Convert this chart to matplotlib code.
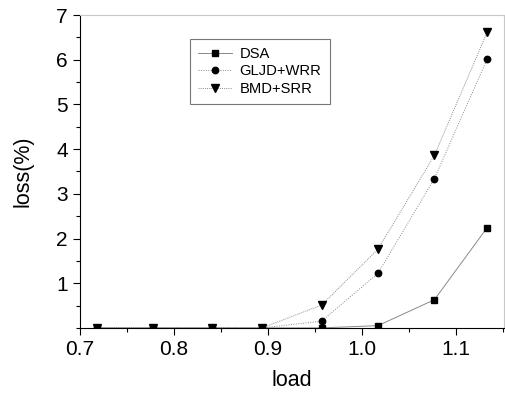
import numpy as np
import matplotlib.pyplot as plt
from matplotlib.ticker import MultipleLocator

plt.rcParams['font.family'] = ['Liberation Sans', 'DejaVu Sans']

load = [0.718, 0.778, 0.841, 0.894, 0.957, 1.017, 1.077, 1.133]
dsa = [0.0, 0.0, 0.0, 0.0, 0.0, 0.05, 0.63, 2.24]
gljd_wrr = [0.0, 0.0, 0.0, 0.0, 0.15, 1.22, 3.34, 6.01]
bmd_srr = [0.0, 0.0, 0.0, 0.0, 0.51, 1.76, 3.86, 6.61]

fig = plt.figure(figsize=(5.05, 3.96), dpi=100)
ax = fig.add_axes([0.158, 0.172, 0.840, 0.790])

ax.plot(load, dsa, color='#8a8a8a', lw=0.7, ls='-',
        marker='s', ms=3.8, mfc='black', mec='black', label='DSA')
ax.plot(load, gljd_wrr, color='#8a8a8a', lw=0.7, ls=(0, (1, 1.5)),
        marker='o', ms=4.6, mfc='black', mec='black', label='GLJD+WRR')
ax.plot(load, bmd_srr, color='#8a8a8a', lw=0.7, ls=(0, (1, 1.2)),
        marker='v', ms=5.5, mfc='black', mec='black', label='BMD+SRR')

ax.set_xlim(0.7, 1.151)
ax.set_ylim(0, 7)
ax.xaxis.set_major_locator(MultipleLocator(0.1))
ax.xaxis.set_minor_locator(MultipleLocator(0.05))
ax.set_yticks([1, 2, 3, 4, 5, 6, 7])
ax.yaxis.set_minor_locator(MultipleLocator(0.5))
ax.xaxis.set_major_formatter(plt.FuncFormatter(lambda v, p: '%.1f' % v))

ax.tick_params(which='major', direction='out', length=5, width=0.8, labelsize=15,
               top=False, right=False)
ax.tick_params(which='minor', direction='out', length=3, width=0.8,
               top=False, right=False)
for s in ['top', 'right']:
    ax.spines[s].set_color('#c8c8c8')
for s in ['left', 'bottom']:
    ax.spines[s].set_linewidth(0.8)

ax.set_xlabel('load', fontsize=15.5)
ax.set_ylabel('loss(%)', fontsize=15.5)
ax.xaxis.set_label_coords(0.5, -0.135)
ax.yaxis.set_label_coords(-0.108, 0.5)

leg = ax.legend(loc='upper left', bbox_to_anchor=(0.259, 0.923), fontsize=10.6,
                frameon=True, fancybox=False, edgecolor='#555555',
                handlelength=2.3, borderpad=0.55, labelspacing=0.22,
                handletextpad=0.55, borderaxespad=0)
leg.get_frame().set_linewidth(0.8)

fig.savefig('out.png', dpi=100)
